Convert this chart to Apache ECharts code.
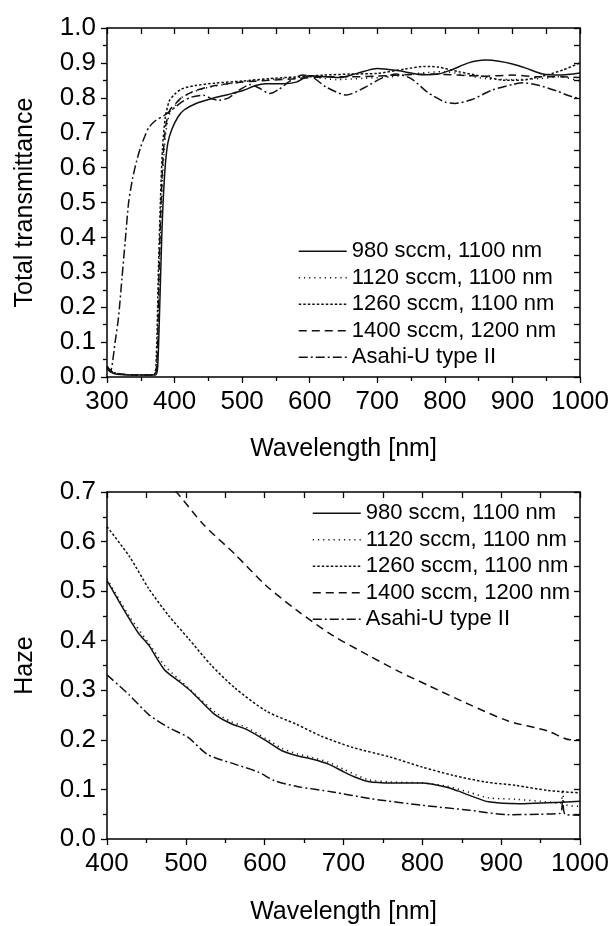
<!DOCTYPE html>
<html><head><meta charset="utf-8">
<script src="https://cdn.jsdelivr.net/npm/echarts@6/dist/echarts.min.js"></script>
<style>html,body{margin:0;padding:0;background:#fff}#c{width:613px;height:926px}</style>
</head><body><div id="c"></div>
<script>
const seriesNames = ['980 sccm, 1100 nm','1120 sccm, 1100 nm','1260 sccm, 1100 nm','1400 sccm, 1200 nm','Asahi-U type II'];
const xTicksTop = [300,400,500,600,700,800,900,1000];
const xTicksBottom = [400,500,600,700,800,900,1000];

// Total transmittance [wavelength nm, value]
const tt980 = [[300,0.025],[305,0.015],[315,0.008],[340,0.006],[372,0.006],[375,0.03],[378,0.2],[381,0.4],[383,0.5],[386,0.6],[390,0.67],[396,0.71],[405,0.745],[414,0.765],[431,0.783],[454,0.797],[478,0.809],[500,0.82],[520,0.835],[535,0.84],[560,0.84],[580,0.845],[600,0.863],[625,0.86],[645,0.858],[670,0.87],[700,0.884],[730,0.878],[768,0.866],[790,0.868],[810,0.88],[835,0.9],[860,0.908],[880,0.905],[900,0.897],[920,0.885],[945,0.868],[970,0.865],[1000,0.871]];
const tt1120 = [[300,0.03],[310,0.012],[340,0.006],[370,0.006],[374,0.05],[377,0.25],[380,0.45],[383,0.6],[387,0.7],[392,0.75],[400,0.775],[410,0.8],[425,0.815],[450,0.83],[480,0.84],[520,0.85],[560,0.855],[600,0.86],[640,0.852],[680,0.856],[720,0.86],[760,0.87],[800,0.875],[830,0.865],[860,0.855],[900,0.852],[940,0.855],[970,0.86],[1000,0.848]];
const tt1260 = [[300,0.03],[310,0.012],[340,0.006],[369,0.006],[373,0.06],[376,0.3],[379,0.5],[382,0.65],[386,0.74],[392,0.79],[400,0.81],[410,0.825],[430,0.835],[460,0.842],[500,0.848],[540,0.855],[580,0.86],[620,0.865],[660,0.868],[700,0.87],[740,0.882],[770,0.89],[790,0.888],[820,0.875],[860,0.86],[890,0.85],[920,0.852],[950,0.865],[975,0.88],[1000,0.9]];
const tt1400 = [[300,0.03],[310,0.012],[340,0.006],[370,0.006],[374,0.05],[377,0.3],[380,0.5],[383,0.63],[387,0.72],[393,0.765],[400,0.78],[410,0.8],[430,0.82],[460,0.835],[500,0.845],[540,0.85],[580,0.855],[620,0.86],[660,0.86],[700,0.862],[740,0.866],[780,0.868],[820,0.865],[860,0.862],[900,0.865],[940,0.86],[970,0.86],[1000,0.858]];
const ttAsahi = [[300,0.025],[305,0.015],[308,0.04],[312,0.1],[317,0.17],[322,0.28],[327,0.39],[332,0.5],[338,0.57],[344,0.62],[350,0.66],[356,0.69],[362,0.715],[372,0.735],[385,0.75],[400,0.772],[412,0.79],[425,0.802],[443,0.807],[455,0.797],[466,0.793],[480,0.8],[498,0.825],[512,0.838],[525,0.828],[541,0.812],[555,0.825],[572,0.85],[590,0.865],[605,0.858],[625,0.83],[654,0.808],[680,0.828],[705,0.855],[728,0.868],[750,0.855],[775,0.815],[800,0.788],[815,0.784],[840,0.795],[870,0.822],[900,0.838],[916,0.843],[940,0.835],[965,0.82],[985,0.805],[1000,0.798]];

// Haze [wavelength nm, value]
const hz980 = [[400,0.521],[415,0.48],[428,0.445],[440,0.415],[453,0.391],[463,0.365],[473,0.341],[488,0.322],[503,0.303],[520,0.277],[537,0.251],[557,0.233],[577,0.221],[602,0.198],[622,0.178],[641,0.168],[661,0.161],[681,0.151],[701,0.135],[716,0.124],[731,0.116],[760,0.113],[800,0.113],[830,0.105],[845,0.097],[860,0.088],[884,0.075],[924,0.071],[959,0.073],[1000,0.076]];
const hz1120 = [[400,0.525],[428,0.45],[453,0.395],[473,0.35],[503,0.305],[537,0.256],[557,0.237],[577,0.225],[602,0.202],[622,0.183],[641,0.172],[661,0.164],[681,0.155],[701,0.14],[731,0.12],[760,0.115],[800,0.113],[830,0.107],[860,0.094],[884,0.083],[920,0.08],[950,0.076],[975,0.072],[978,0.1],[981,0.07],[1000,0.066]];
const hz1260 = [[400,0.63],[428,0.571],[453,0.505],[478,0.451],[503,0.405],[532,0.351],[562,0.305],[602,0.258],[641,0.231],[671,0.208],[711,0.185],[760,0.165],[800,0.145],[840,0.128],[880,0.115],[919,0.108],[959,0.098],[1000,0.093]];
const hz1400 = [[400,0.86],[440,0.78],[488,0.70],[522,0.635],[562,0.575],[602,0.511],[641,0.461],[686,0.411],[731,0.371],[770,0.338],[810,0.308],[860,0.271],[909,0.238],[959,0.218],[988,0.2],[1000,0.2]];
const hzAsahi = [[400,0.331],[428,0.291],[453,0.251],[478,0.225],[503,0.205],[527,0.171],[562,0.151],[592,0.135],[612,0.118],[641,0.106],[686,0.095],[736,0.081],[800,0.068],[860,0.058],[909,0.049],[950,0.05],[975,0.052],[978,0.08],[981,0.05],[1000,0.048]];

const FONT = '"Liberation Sans", Arial, sans-serif';
const dashTypes = ['solid',[1.2,4],[2.5,2],[8,5],[9,3,2,3]];
const ttData = [tt980, tt1120, tt1260, tt1400, ttAsahi];
const hzData = [hz980, hz1120, hz1260, hz1400, hzAsahi];

function mainX(gi, min, ticks, name, gap){
  return {gridIndex:gi, type:'value', min:min, max:1000, interval:100,
    name:name, nameLocation:'middle', nameGap:gap,
    nameTextStyle:{fontFamily:FONT, fontSize:25, color:'#000'},
    axisLine:{show:true, onZero:false, lineStyle:{color:'#000', width:1.5}},
    axisTick:{show:true, inside:false, length:6, lineStyle:{color:'#000', width:1.3}},
    minorTick:{show:true, splitNumber:2, length:4, lineStyle:{color:'#000', width:1.3}},
    axisLabel:{margin:12, fontFamily:FONT, fontSize:26, color:'#000',
      formatter:function(v){return ticks.indexOf(v)>=0 ? String(v) : '';}},
    splitLine:{show:false}};
}
function mirrorX(gi, min){
  return {gridIndex:gi, type:'value', position:'top', min:min, max:1000, interval:50,
    axisLine:{show:true, onZero:false, lineStyle:{color:'#000', width:1.5}},
    axisTick:{show:true, inside:true, length:6, lineStyle:{color:'#000', width:1.3}},
    axisLabel:{show:false}, splitLine:{show:false}};
}
function mainY(gi, max, name){
  return {gridIndex:gi, type:'value', min:0, max:max, interval:0.1,
    name:name, nameLocation:'middle', nameGap:69,
    nameTextStyle:{fontFamily:FONT, fontSize:25, color:'#000'},
    axisLine:{show:true, onZero:false, lineStyle:{color:'#000', width:1.5}},
    axisTick:{show:true, inside:false, length:6, lineStyle:{color:'#000', width:1.3}},
    minorTick:{show:true, splitNumber:2, length:4, lineStyle:{color:'#000', width:1.3}},
    axisLabel:{margin:11, fontFamily:FONT, fontSize:26, color:'#000',
      formatter:function(v){return v.toFixed(1);}},
    splitLine:{show:false}};
}
function mirrorY(gi, max){
  return {gridIndex:gi, type:'value', position:'right', min:0, max:max, interval:0.05,
    axisLine:{show:true, onZero:false, lineStyle:{color:'#000', width:1.5}},
    axisTick:{show:true, inside:true, length:6, lineStyle:{color:'#000', width:1.3}},
    axisLabel:{show:false}, splitLine:{show:false}};
}

const series = [];
seriesNames.forEach(function(n,i){
  [[0,ttData[i]],[2,hzData[i]]].forEach(function(p){
    series.push({name:n, type:'line', xAxisIndex:p[0], yAxisIndex:p[0], data:p[1],
      showSymbol:false, symbol:'none', smooth:0.25, clip:true, animation:false,
      itemStyle:{color:'#111'},
      lineStyle:{color:'#111', width:1.5, type:dashTypes[i]}});
  });
});

function legend(left, top){
  return {data:seriesNames, orient:'vertical', left:left, top:top, itemGap:0, padding:0,
    itemWidth:48, itemHeight:14, selectedMode:false,
    itemStyle:{color:'rgba(0,0,0,0)', borderWidth:0, opacity:0},
    textStyle:{fontFamily:FONT, fontSize:22, color:'#000', lineHeight:26.5},
    lineStyle:{width:1.5}};
}

const chart = echarts.init(document.getElementById('c'), null, {renderer:'canvas'});
chart.setOption({
  animation:false,
  backgroundColor:'#fff',
  grid:[{left:107, top:28, width:473, height:349},{left:107, top:492, width:473, height:350}],
  xAxis:[mainX(0,300,xTicksTop,'Wavelength [nm]',60), mirrorX(0,300), mainX(1,400,xTicksBottom,'Wavelength [nm]',61), mirrorX(1,400)],
  yAxis:[mainY(0,1.0,'Total transmittance'), mirrorY(0,1.0), mainY(1,0.7,'Haze'), mirrorY(1,0.7)],
  legend:[legend(298,238), legend(312,500)],
  series:series
});
</script></body></html>
